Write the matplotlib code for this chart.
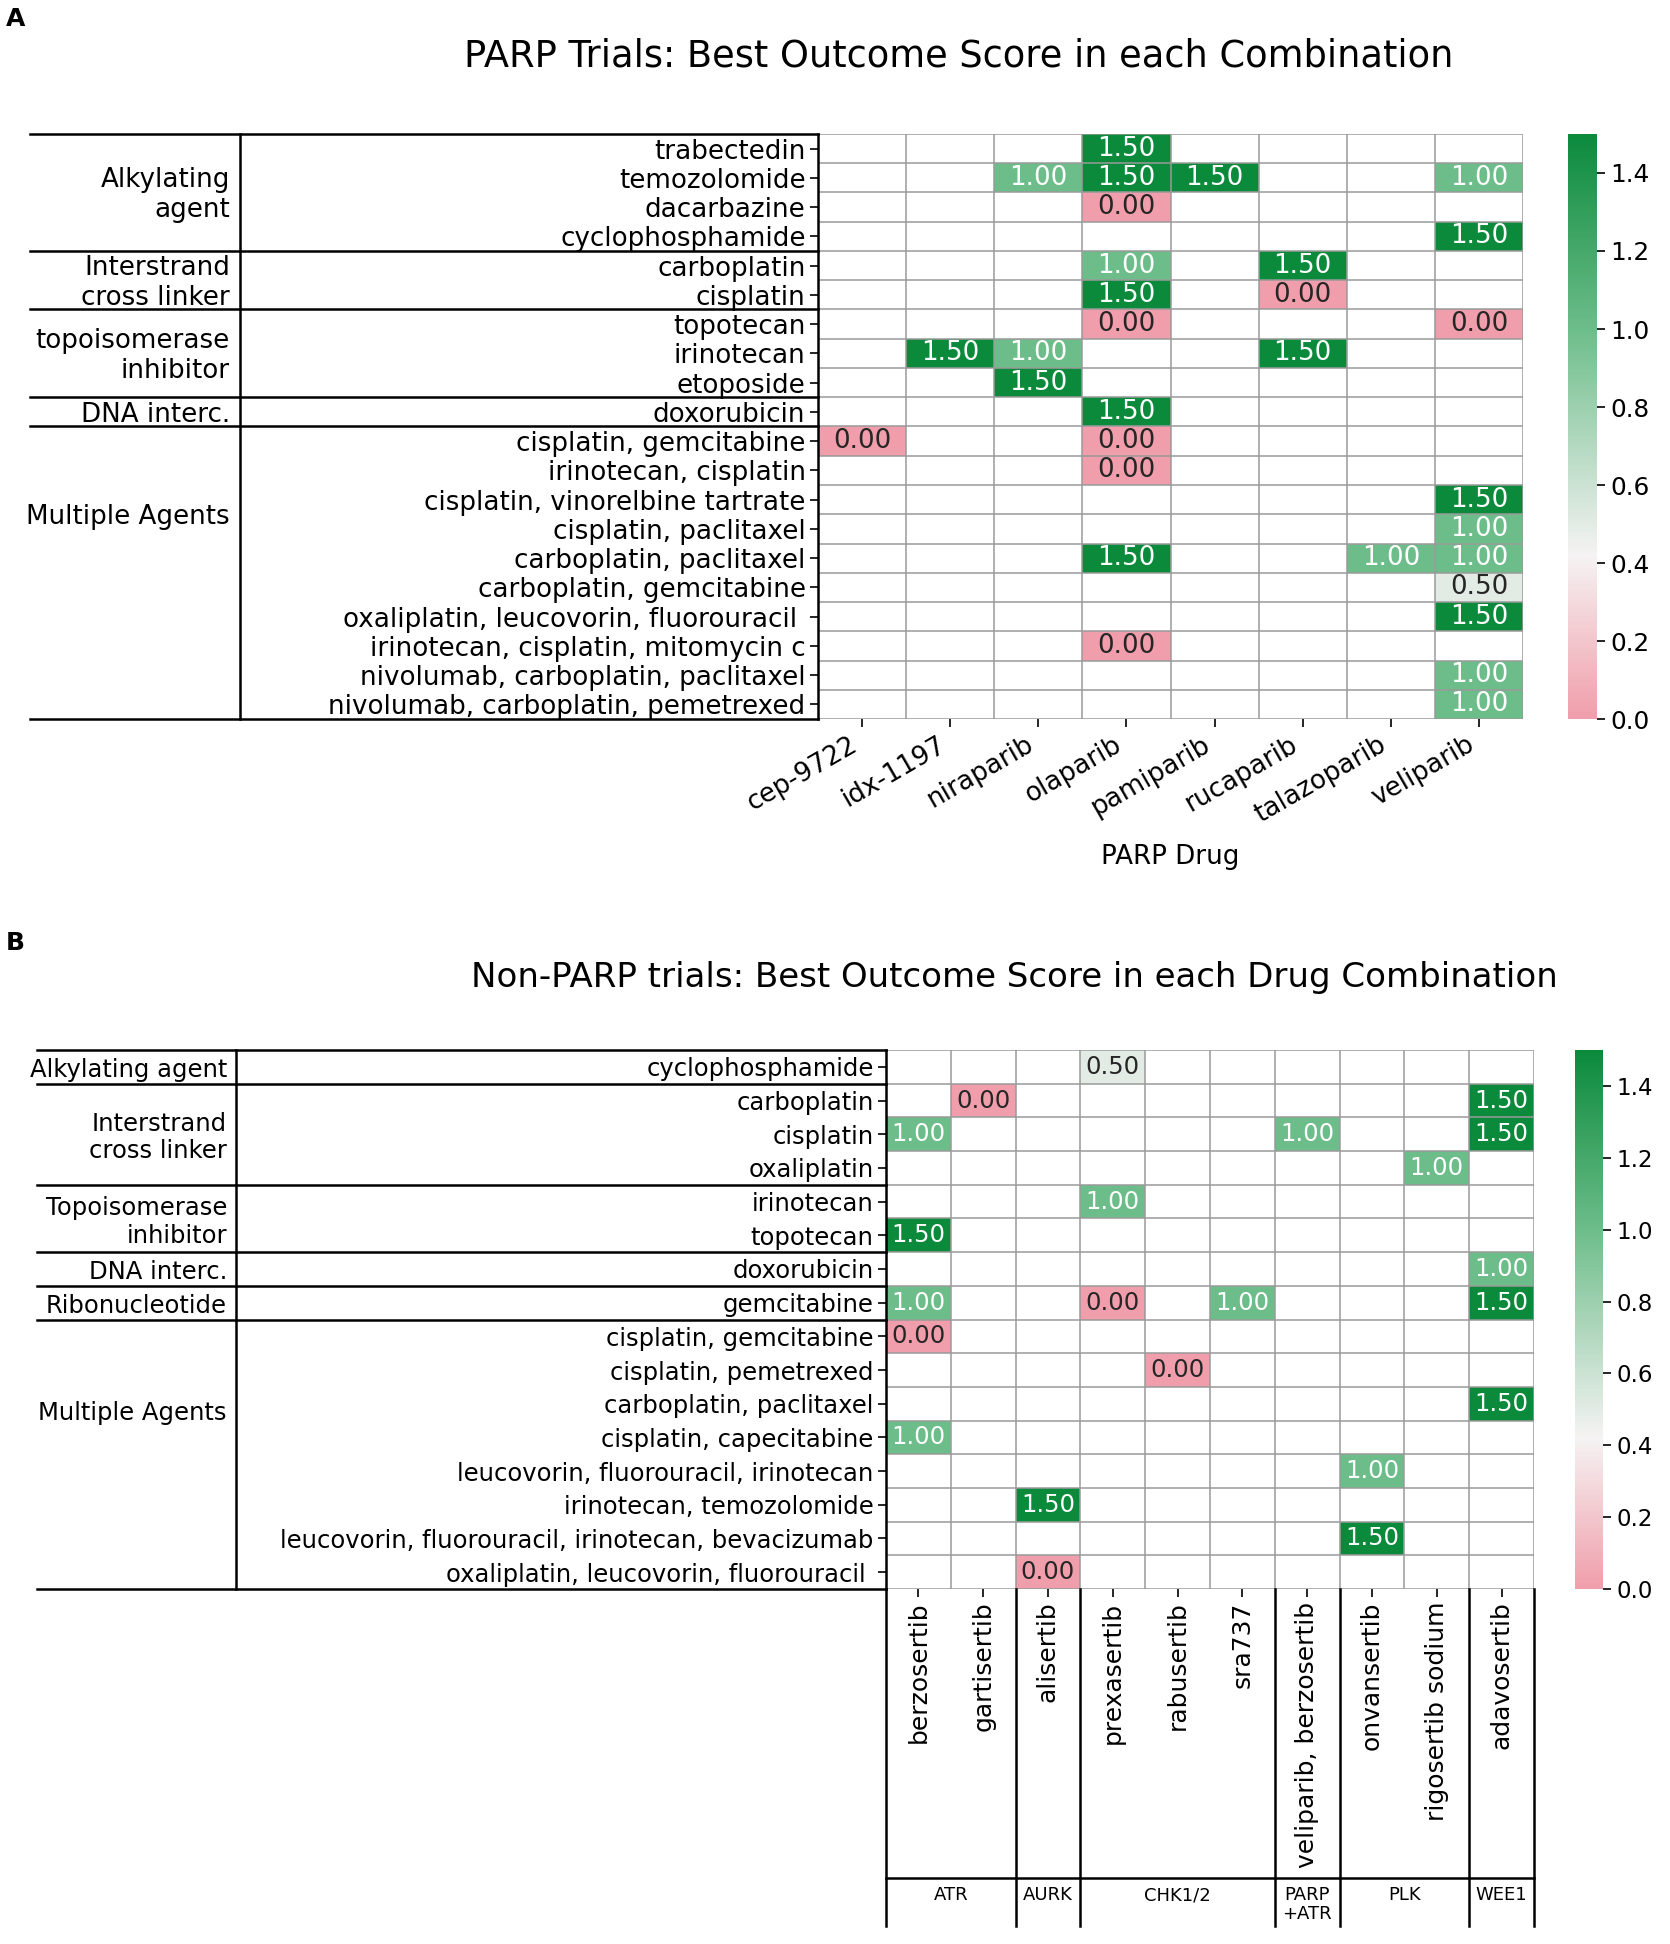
import numpy as np
import matplotlib
matplotlib.use('Agg')
import matplotlib.pyplot as plt
from matplotlib.colors import LinearSegmentedColormap
from matplotlib.transforms import blended_transform_factory

nan = np.nan

# --- panel A data: PARP trials ---
parp_drugs = ['cep-9722', 'idx-1197', 'niraparib', 'olaparib', 'pamiparib',
              'rucaparib', 'talazoparib', 'veliparib']
parp_rows = ['trabectedin', 'temozolomide', 'dacarbazine', 'cyclophosphamide',
             'carboplatin', 'cisplatin',
             'topotecan', 'irinotecan', 'etoposide',
             'doxorubicin',
             'cisplatin, gemcitabine', 'irinotecan, cisplatin',
             'cisplatin, vinorelbine tartrate', 'cisplatin, paclitaxel',
             'carboplatin, paclitaxel', 'carboplatin, gemcitabine',
             'oxaliplatin, leucovorin, fluorouracil ',
             'irinotecan, cisplatin, mitomycin c',
             'nivolumab, carboplatin, paclitaxel',
             'nivolumab, carboplatin, pemetrexed']
parp_groups = ['Alkylating\nagent', 'Interstrand\ncross linker',
               'topoisomerase\ninhibitor', 'DNA interc.', 'Multiple Agents']
parp_group_sizes = [4, 2, 3, 1, 10]
parp_scores = [
    [nan, nan, nan, 1.5, nan, nan, nan, nan],
    [nan, nan, 1.0, 1.5, 1.5, nan, nan, 1.0],
    [nan, nan, nan, 0.0, nan, nan, nan, nan],
    [nan, nan, nan, nan, nan, nan, nan, 1.5],
    [nan, nan, nan, 1.0, nan, 1.5, nan, nan],
    [nan, nan, nan, 1.5, nan, 0.0, nan, nan],
    [nan, nan, nan, 0.0, nan, nan, nan, 0.0],
    [nan, 1.5, 1.0, nan, nan, 1.5, nan, nan],
    [nan, nan, 1.5, nan, nan, nan, nan, nan],
    [nan, nan, nan, 1.5, nan, nan, nan, nan],
    [0.0, nan, nan, 0.0, nan, nan, nan, nan],
    [nan, nan, nan, 0.0, nan, nan, nan, nan],
    [nan, nan, nan, nan, nan, nan, nan, 1.5],
    [nan, nan, nan, nan, nan, nan, nan, 1.0],
    [nan, nan, nan, 1.5, nan, nan, 1.0, 1.0],
    [nan, nan, nan, nan, nan, nan, nan, 0.5],
    [nan, nan, nan, nan, nan, nan, nan, 1.5],
    [nan, nan, nan, 0.0, nan, nan, nan, nan],
    [nan, nan, nan, nan, nan, nan, nan, 1.0],
    [nan, nan, nan, nan, nan, nan, nan, 1.0],
]

# --- panel B data: non-PARP trials ---
other_drugs = ['berzosertib', 'gartisertib', 'alisertib', 'prexasertib',
               'rabusertib', 'sra737', 'veliparib, berzosertib', 'onvansertib',
               'rigosertib sodium', 'adavosertib']
other_targets = ['ATR', 'AURK', 'CHK1/2', 'PARP\n+ATR', 'PLK', 'WEE1']
other_target_sizes = [2, 1, 3, 1, 2, 1]
other_rows = ['cyclophosphamide',
              'carboplatin', 'cisplatin', 'oxaliplatin',
              'irinotecan', 'topotecan',
              'doxorubicin',
              'gemcitabine',
              'cisplatin, gemcitabine', 'cisplatin, pemetrexed',
              'carboplatin, paclitaxel', 'cisplatin, capecitabine',
              'leucovorin, fluorouracil, irinotecan',
              'irinotecan, temozolomide',
              'leucovorin, fluorouracil, irinotecan, bevacizumab',
              'oxaliplatin, leucovorin, fluorouracil ']
other_groups = ['Alkylating agent', 'Interstrand\ncross linker',
                'Topoisomerase\ninhibitor', 'DNA interc.', 'Ribonucleotide',
                'Multiple Agents']
other_group_sizes = [1, 3, 2, 1, 1, 8]
other_scores = [
    [nan, nan, nan, 0.5, nan, nan, nan, nan, nan, nan],
    [nan, 0.0, nan, nan, nan, nan, nan, nan, nan, 1.5],
    [1.0, nan, nan, nan, nan, nan, 1.0, nan, nan, 1.5],
    [nan, nan, nan, nan, nan, nan, nan, nan, 1.0, nan],
    [nan, nan, nan, 1.0, nan, nan, nan, nan, nan, nan],
    [1.5, nan, nan, nan, nan, nan, nan, nan, nan, nan],
    [nan, nan, nan, nan, nan, nan, nan, nan, nan, 1.0],
    [1.0, nan, nan, 0.0, nan, 1.0, nan, nan, nan, 1.5],
    [0.0, nan, nan, nan, nan, nan, nan, nan, nan, nan],
    [nan, nan, nan, nan, 0.0, nan, nan, nan, nan, nan],
    [nan, nan, nan, nan, nan, nan, nan, nan, nan, 1.5],
    [1.0, nan, nan, nan, nan, nan, nan, nan, nan, nan],
    [nan, nan, nan, nan, nan, nan, nan, 1.0, nan, nan],
    [nan, nan, 1.5, nan, nan, nan, nan, nan, nan, nan],
    [nan, nan, nan, nan, nan, nan, nan, 1.5, nan, nan],
    [nan, nan, 0.0, nan, nan, nan, nan, nan, nan, nan],
]

VMAX = 1.5
cmap = LinearSegmentedColormap.from_list('pinkgreen', [
    (0.0, '#f09eab'),
    (0.42 / VMAX, '#f5f3f3'),
    (1.0 / VMAX, '#6dbd8a'),
    (1.0, '#0b8a3c'),
])

W, H = 1670, 1944
fig = plt.figure(figsize=(W / 100, H / 100), dpi=100)


def px_rect(x0, y0, x1, y1):
    # pixel box (top-left origin) -> figure fraction rect
    return [x0 / W, 1 - y1 / H, (x1 - x0) / W, (y1 - y0) / H]


def draw_heatmap(ax, cax, scores, rows, cols, fs):
    data = np.ma.masked_invalid(np.array(scores, dtype=float))
    n, m = data.shape
    mesh = ax.pcolormesh(np.arange(m + 1), np.arange(n + 1), data,
                         cmap=cmap, vmin=0, vmax=VMAX)
    ax.set_xlim(0, m)
    ax.set_ylim(n, 0)
    ax.hlines(np.arange(n + 1), 0, m, color='#9a9a9a', lw=1.1)
    ax.vlines(np.arange(m + 1), 0, n, color='#9a9a9a', lw=1.1)
    for i in range(n):
        for j in range(m):
            v = data[i, j]
            if np.ma.is_masked(v):
                continue
            ax.text(j + 0.5, i + 0.5, f'{v:.2f}', ha='center', va='center',
                    fontsize=fs, color='white' if v > 0.75 else '#262626')
    for s in ax.spines.values():
        s.set_visible(False)
    ax.set_yticks(np.arange(n) + 0.5, rows, fontsize=fs)
    ax.set_xticks(np.arange(m) + 0.5)
    ax.tick_params(length=6, width=1.2, pad=3)

    cb = fig.colorbar(mesh, cax=cax)
    cb.outline.set_visible(False)
    cb.set_ticks(np.arange(0, 1.41, 0.2))
    cb.ax.yaxis.set_major_formatter(plt.FormatStrFormatter('%.1f'))
    cb.ax.tick_params(labelsize=fs - 1, length=6, width=1.2)


def draw_row_table(ax, groups, sizes, x_left, x_div, gap, fs):
    # boxes left of the heatmap grouping the row labels by drug class
    tr = blended_transform_factory(ax.transAxes, ax.transData)
    n = sum(sizes)
    bounds = np.concatenate([[0], np.cumsum(sizes)])
    for b in bounds:
        ax.plot([x_left, 0], [b, b], color='black', lw=1.8,
                transform=tr, clip_on=False)
    for x in [x_div, 0]:
        ax.plot([x, x], [0, n], color='black', lw=1.8,
                transform=tr, clip_on=False)
    for name, start, size in zip(groups, bounds[:-1], sizes):
        # long groups have their label sitting a bit above the middle
        y = start + size / 2 + 0.1 - max(0, size - 4) / 3
        ax.text(x_div - gap, y, name, ha='right', va='center',
                ma='right', fontsize=fs, transform=tr)


# ---------------- panel A ----------------
hx0, hy0, hx1, hy1 = 818, 134, 1523, 719
axA = fig.add_axes(px_rect(hx0, hy0, hx1, hy1))
caxA = fig.add_axes(px_rect(1568, hy0, 1597, hy1))
fsA = 18.8
draw_heatmap(axA, caxA, parp_scores, parp_rows, parp_drugs, fsA)
axA.set_xticklabels(parp_drugs, rotation=30, ha='right', fontsize=fsA)
axA.set_xlabel('PARP Drug', fontsize=fsA, labelpad=12)
draw_row_table(axA, parp_groups, parp_group_sizes,
               (30 - hx0) / (hx1 - hx0), (240 - hx0) / (hx1 - hx0),
               10 / (hx1 - hx0), fsA)
fig.text(959 / W, 1 - 56 / H, 'PARP Trials: Best Outcome Score in each Combination',
         ha='center', va='center', fontsize=26.5)
fig.text(6 / W, 1 - 19 / H, 'A', ha='left', va='center', fontsize=18,
         fontweight='bold')

# ---------------- panel B ----------------
bx0, by0, bx1, by1 = 886, 1050, 1534, 1589
axB = fig.add_axes(px_rect(bx0, by0, bx1, by1))
caxB = fig.add_axes(px_rect(1575, by0, 1603, by1))
fsB = 17.5
draw_heatmap(axB, caxB, other_scores, other_rows, other_drugs, fsB)
axB.set_xticklabels(other_drugs, rotation=90, fontsize=18)
draw_row_table(axB, other_groups, other_group_sizes,
               (37 - bx0) / (bx1 - bx0), (236 - bx0) / (bx1 - bx0),
               9 / (bx1 - bx0), fsB)

# target groups under the drug names
trB = blended_transform_factory(axB.transData, axB.transAxes)
h_px = by1 - by0
y_end = -(1926 - by1) / h_px
y_line = -(1878 - by1) / h_px
m = len(other_drugs)
cols_bounds = np.concatenate([[0], np.cumsum(other_target_sizes)])
for b in cols_bounds:
    axB.plot([b, b], [0, y_end], color='black', lw=1.8, transform=trB,
             clip_on=False)
axB.plot([0, m], [y_line, y_line], color='black', lw=1.8, transform=trB,
         clip_on=False)
for name, start, size in zip(other_targets, cols_bounds[:-1], other_target_sizes):
    axB.text(start + size / 2, y_line - 8 / h_px, name, ha='center', va='top',
             fontsize=13, transform=trB, linespacing=1.1)

fig.text(1014 / W, 1 - 977 / H,
         'Non-PARP trials: Best Outcome Score in each Drug Combination',
         ha='center', va='center', fontsize=24.5)
fig.text(6 / W, 1 - 943 / H, 'B', ha='left', va='center', fontsize=18,
         fontweight='bold')

fig.savefig('out.png', dpi=100)
